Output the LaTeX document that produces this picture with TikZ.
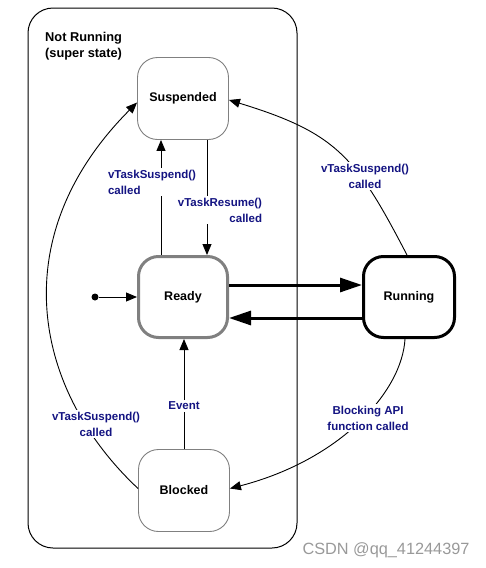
\documentclass[tikz,border=0pt]{standalone}
\usepackage{fontspec}
\setmainfont{Liberation Sans}
\usetikzlibrary{arrows.meta}
\definecolor{lblblue}{RGB}{20,20,130}
\definecolor{edgegray}{RGB}{128,128,128}
\begin{document}
\begin{tikzpicture}[x=1pt,y=-1pt,>={Triangle[length=11pt,width=9pt]},line join=round,
	state/.style={draw=edgegray,line width=0.9pt,rounded corners=20pt,minimum width=91pt,minimum height=82pt,
		inner sep=0pt,font=\fontsize{12.5}{15}\selectfont\bfseries},
	lbl/.style={fill=white,text=lblblue,inner sep=1.5pt,font=\fontsize{11.5}{16}\selectfont\bfseries},
	thin/.style={->,line width=0.9pt},
	fat/.style={-{Triangle[length=22pt,width=14pt]},line width=3pt}]
	\useasboundingbox (0,0) rectangle (485,568);
	% super state
	\draw[line width=1pt,rounded corners=25pt] (28,8) rectangle (297,548);
	\node[anchor=north west,align=left,inner sep=0pt,font=\fontsize{12.8}{16}\selectfont\bfseries] (nr) at (45,32) {Not Running\\(super state)};
	% states
	\node[state] (Susp) at (183,98.5) {Suspended};
	\node[state,line width=3pt,minimum width=89pt,minimum height=81pt] (Ready) at (183,297) {Ready};
	\node[state,draw=black,line width=3pt,minimum width=91pt,minimum height=81pt] (Run) at (409,297) {Running};
	\node[state] (Blk) at (184,490.5) {Blocked};
	\node[circle,fill,inner sep=0pt,minimum size=7pt] (init) at (95,297) {};
	% transitions
	\draw[thin] (init) -- (Ready.west);
	\draw[thin] ([xshift=-22pt]Ready.north) -- ([xshift=-22pt]Susp.south);
	\draw[thin] ([xshift=24pt]Susp.south) -- ([xshift=24pt]Ready.north);
	\draw[fat] ([yshift=12pt]Ready.east) -- ([yshift=12pt]Run.west);
	\draw[fat] ([yshift=-21pt]Run.west) -- ([yshift=-21pt]Ready.east);
	\draw[thin] (Blk.north) -- (Blk.north |- Ready.south);
	\draw[thin] ([xshift=-2pt]Run.north) .. controls (356,157) and (337,133) .. ([yshift=-1.5pt]Susp.east);
	\draw[thin] ([xshift=-4pt]Run.south) .. controls (402,392) and (340,460) .. ([yshift=2pt]Blk.east);
	\draw[thin] ([yshift=2pt]Blk.west) .. controls (33,390) and (3,237) .. ([yshift=-4pt]Susp.west);
	% labels
	\node[lbl,align=left] (lsusA) at (152,182) {vTaskSuspend()\\called};
	\node[lbl,align=right] (lres) at (220,210) {vTaskResume()\\called};
	\node[lbl,align=center] (lsusB) at (365,176) {vTaskSuspend()\\called};
	\node[lbl,align=center] (lblk) at (368,418) {Blocking API\\function called};
	\node[lbl,align=center] (lsusC) at (96,424) {vTaskSuspend()\\called};
	\node[lbl] (lev) at (184,406) {Event};
	\node[text=black!40,font=\fontsize{16.3}{18}\selectfont] (wm) at (386,550) {CSDN @qq\_41244397};
\end{tikzpicture}
\end{document}
